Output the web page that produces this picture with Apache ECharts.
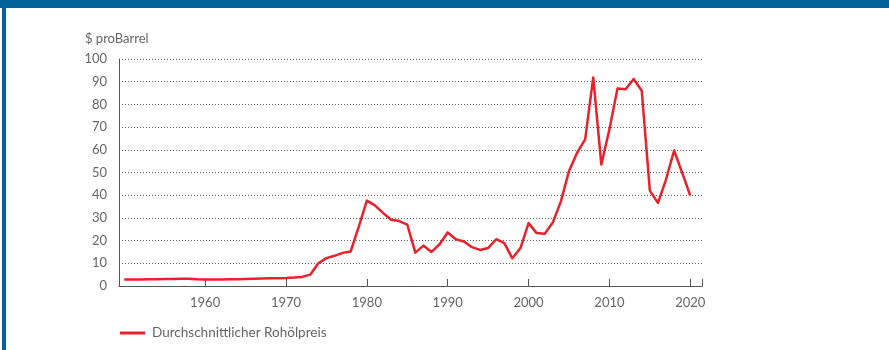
<!DOCTYPE html>
<html>
<head>
<meta charset="utf-8">
<script src="https://cdn.jsdelivr.net/npm/echarts@6/dist/echarts.min.js"></script>
<style>
  html, body { margin: 0; padding: 0; background: #fff; }
  #chart { width: 889px; height: 350px; }
</style>
</head>
<body>
<div id="chart"></div>
<script>
const years = [];
for (let y = 1950; y <= 2020; y++) years.push(y);

// durchschnittlicher Rohölpreis, $ pro Barrel
const prices = [
    2.9, 2.9, 2.9, 3.0, 3.0, 3.1, 3.1, 3.2, 3.2, 3.0,
    2.9, 2.9, 2.9, 3.0, 3.0, 3.1, 3.2, 3.3, 3.4, 3.4,
    3.5, 3.7, 4.0, 5.0, 10.0, 12.3, 13.3, 14.6, 15.2, 26.0,
    37.6, 35.5, 32.2, 29.2, 28.6, 27.0, 14.7, 17.8, 15.0, 18.4,
    23.6, 20.6, 19.6, 17.1, 15.9, 16.7, 20.6, 18.9, 12.2, 16.7,
    27.7, 23.3, 23.0, 28.0, 37.3, 50.6, 58.7, 64.6, 91.9, 53.5,
    69.0, 87.0, 86.7, 91.2, 86.0, 42.0, 36.6, 46.9, 59.7, 49.9,
    39.8
];

const xTicks = [1960, 1970, 1980, 1990, 2000, 2010, 2020];
const seriesName = 'Durchschnittlicher Rohölpreis';
const yTitle = '$ proBarrel';

const data = years.map((y, i) => [y, prices[i]]);

const textColor = '#666';
const fontFamily = 'Lato, "Open Sans", sans-serif';

const chart = echarts.init(document.getElementById('chart'));

const option = {
    backgroundColor: '#fff',
    animation: false,
    textStyle: { fontFamily: fontFamily },
    graphic: [
        { type: 'rect', left: 0, top: 0, shape: { width: 889, height: 8 }, style: { fill: '#03629a' } },
        { type: 'rect', left: 2, top: 0, shape: { width: 4, height: 350 }, style: { fill: '#03629a' } },
        {
            type: 'text', left: 85, top: 32,
            style: { text: yTitle, fill: textColor, font: '13px ' + fontFamily }
        }
    ],
    grid: { left: 119, right: 187, top: 59, bottom: 64 },
    legend: {
        left: 115, top: 321,
        icon: 'rect',
        itemWidth: 25, itemHeight: 3,
        textStyle: { color: textColor, fontSize: 13.5, padding: [0, 0, 0, 2] },
        data: [seriesName]
    },
    xAxis: {
        type: 'value',
        min: 1949.35,
        max: 2021.45,
        axisLine: { lineStyle: { color: '#555', width: 1 } },
        axisTick: {
            inside: true, length: 7,
            lineStyle: { color: '#555' },
            customValues: xTicks.concat([2021.45])
        },
        axisLabel: {
            color: textColor, fontSize: 13, margin: 10,
            customValues: xTicks,
            formatter: v => String(v)
        },
        splitLine: { show: false }
    },
    yAxis: {
        type: 'value',
        min: 0, max: 100, interval: 10,
        axisLine: { show: true, lineStyle: { color: '#555', width: 1 } },
        axisTick: { show: false },
        axisLabel: { color: textColor, fontSize: 13, margin: 12 },
        splitLine: { lineStyle: { type: [1, 2], color: '#666', width: 1 } }
    },
    series: [{
        name: seriesName,
        type: 'line',
        data: data,
        showSymbol: false,
        symbol: 'none',
        lineStyle: { color: '#e8212b', width: 2.5, join: 'round' },
        itemStyle: { color: '#e8212b' }
    }]
};

chart.setOption(option);
</script>
</body>
</html>
